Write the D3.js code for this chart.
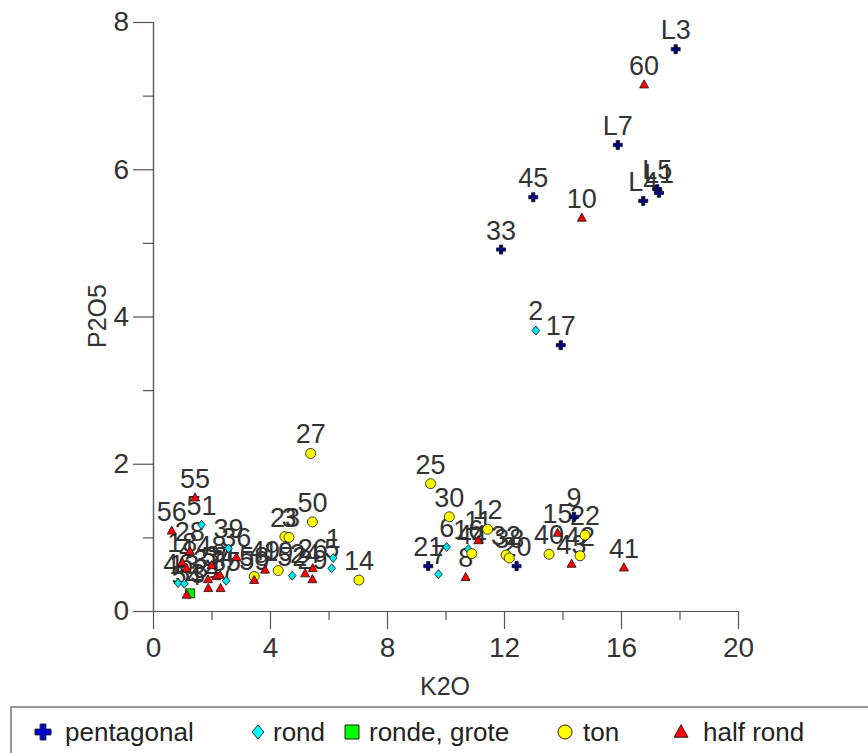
<!DOCTYPE html>
<html>
<head>
<meta charset="utf-8">
<script src="https://cdn.jsdelivr.net/npm/d3@7"></script>
<style>
  html, body { margin: 0; padding: 0; background: #fff; }
  svg { display: block; font-family: "Liberation Sans", Arial, sans-serif; }
</style>
</head>
<body>
<svg id="chart" width="868" height="753"></svg>
<script>
// ---- data ----
const seriesNames = ["pentagonal", "rond", "ronde, grote", "ton", "half rond"];

const pentagonalLabels = ["L3", "L7", "L4", "L5", "L1", "45", "33", "17", "21", "20", "9"];
const pentagonalK2O    = [17.87, 15.89, 16.76, 17.24, 17.30, 13.00, 11.90, 13.94, 9.41, 12.43, 14.39];
const pentagonalP2O5   = [7.63, 6.33, 5.57, 5.73, 5.68, 5.62, 4.91, 3.61, 0.61, 0.61, 1.28];

const rondLabels = ["2", "7", "6", "16", "51", "39", "52", "1", "5", "46", "13", "35"];
const rondK2O    = [13.09, 9.76, 10.04, 10.78, 1.66, 2.58, 4.76, 6.16, 6.11, 0.86, 1.07, 2.50];
const rondP2O5   = [3.81, 0.50, 0.87, 0.84, 1.17, 0.85, 0.48, 0.72, 0.58, 0.38, 0.37, 0.41];

const rondeGroteLabels = ["53"];
const rondeGroteK2O    = [1.27];
const rondeGroteP2O5   = [0.24];

const tonLabels = ["27", "50", "23", "3", "19", "58", "14", "25", "30", "44", "12", "32", "38", "40", "42", "22"];
const tonK2O    = [5.39, 5.45, 4.51, 4.65, 4.28, 3.46, 7.04, 9.49, 10.13, 10.90, 11.44, 12.07, 12.18, 13.54, 14.60, 14.77];
const tonP2O5   = [2.14, 1.21, 1.01, 1.00, 0.55, 0.47, 0.42, 1.73, 1.28, 0.78, 1.11, 0.76, 0.72, 0.77, 0.75, 1.03];

const halfRondLabels = ["60", "10", "55", "56", "28", "18", "4", "36", "49", "59", "24", "26", "29",
                        "37", "57", "34", "31", "47", "48", "54", "8", "11", "15", "43", "41"];
const halfRondK2O    = [16.79, 14.66, 1.44, 0.64, 1.26, 1.00, 1.15, 2.85, 3.83, 3.46, 5.20, 5.46, 5.45,
                        1.88, 2.16, 2.29, 1.89, 2.31, 2.00, 1.15, 10.69, 11.12, 13.83, 14.31, 16.10];
const halfRondP2O5   = [7.15, 5.34, 1.54, 1.09, 0.81, 0.66, 0.58, 0.73, 0.56, 0.42, 0.51, 0.58, 0.43,
                        0.43, 0.47, 0.49, 0.31, 0.31, 0.62, 0.22, 0.46, 0.96, 1.06, 0.64, 0.59];

const xTicks = [0, 4, 8, 12, 16, 20];
const yTicks = [0, 2, 4, 6, 8];
const xTitle = "K2O";
const yTitle = "P2O5";

// ---- build ----
const series = [
  { name: seriesNames[0], shape: "cross",    fill: "#000080", legendFill: "#0000d0", labels: pentagonalLabels, x: pentagonalK2O, y: pentagonalP2O5 },
  { name: seriesNames[1], shape: "diamond",  fill: "#00e5ee", legendFill: "#00ffff", labels: rondLabels,       x: rondK2O,       y: rondP2O5 },
  { name: seriesNames[2], shape: "square",   fill: "#00ee00", legendFill: "#00ff00", labels: rondeGroteLabels, x: rondeGroteK2O, y: rondeGroteP2O5 },
  { name: seriesNames[3], shape: "circle",   fill: "#ffff00", legendFill: "#ffff00", labels: tonLabels,        x: tonK2O,        y: tonP2O5 },
  { name: seriesNames[4], shape: "triangle", fill: "#ff0000", legendFill: "#ff0000", labels: halfRondLabels,   x: halfRondK2O,   y: halfRondP2O5 }
];

const svg = d3.select("#chart");
const xScale = d3.scaleLinear().domain([0, 20]).range([153, 738]);
const yScale = d3.scaleLinear().domain([0, 8]).range([611, 22]);

function shapePath(shape, r) {
  switch (shape) {
    case "cross": {
      const a = r, w = r * 0.36;
      return `M${-w},${-a}H${w}V${-w}H${a}V${w}H${w}V${a}H${-w}V${w}H${-a}V${-w}H${-w}Z`;
    }
    case "diamond":
      return `M0,${-r}L${r * 0.85},0L0,${r}L${-r * 0.85},0Z`;
    case "square":
      return `M${-r},${-r}H${r}V${r}H${-r}Z`;
    case "triangle":
      return `M0,${-r * 1.05}L${r},${r * 0.75}H${-r}Z`;
    case "circle":
    default:
      return d3.arc()({ innerRadius: 0, outerRadius: r, startAngle: 0, endAngle: 2 * Math.PI });
  }
}

// axes
const axisColor = "#555";
const yAxisMajor = d3.axisLeft(yScale).tickValues(yTicks).tickSize(20).tickSizeOuter(0).tickPadding(4)
  .tickFormat(d3.format("d"));
const yAxisMinor = d3.axisLeft(yScale).tickValues([1, 3, 5, 7]).tickSize(10).tickSizeOuter(0).tickFormat("");
const xAxisMajor = d3.axisBottom(xScale).tickValues(xTicks).tickSize(18).tickSizeOuter(0).tickPadding(8)
  .tickFormat(d3.format("d"));
const xAxisMinor = d3.axisBottom(xScale).tickValues([2, 6, 10, 14, 18]).tickSize(9).tickSizeOuter(0).tickFormat("");

function styleAxis(g) {
  g.selectAll("path.domain").attr("stroke", axisColor).attr("stroke-width", 1.2);
  g.selectAll("line").attr("stroke", axisColor).attr("stroke-width", 1.2);
  g.selectAll("text").attr("fill", "#333").style("font-size", "28px")
    .style("font-family", "'Liberation Sans', Arial, sans-serif");
}

svg.append("g").attr("transform", "translate(153,0)").call(yAxisMinor).call(styleAxis);
svg.append("g").attr("transform", "translate(153,0)").call(yAxisMajor).call(styleAxis);
svg.append("g").attr("transform", "translate(0,611)").call(xAxisMinor).call(styleAxis);
svg.append("g").attr("transform", "translate(0,611)").call(xAxisMajor).call(styleAxis);

// axis titles
svg.append("text").attr("x", 445).attr("y", 695).attr("text-anchor", "middle")
  .attr("fill", "#333").style("font-size", "25px").text(xTitle);
svg.append("text").attr("transform", "translate(106,316) rotate(-90)").attr("text-anchor", "middle")
  .attr("fill", "#333").style("font-size", "25px").text(yTitle);

// flatten points
const points = [];
series.forEach(s => {
  s.labels.forEach((lab, i) => points.push({ s, label: lab, x: s.x[i], y: s.y[i] }));
});

// labels (drawn beneath markers)
svg.append("g").selectAll("text").data(points).join("text")
  .attr("x", d => xScale(d.x))
  .attr("y", d => yScale(d.y) - 10)
  .attr("text-anchor", "middle")
  .attr("fill", "#333")
  .style("font-size", "27px")
  .text(d => d.label);

// markers
svg.append("g").selectAll("path").data(points).join("path")
  .attr("transform", d => `translate(${xScale(d.x)},${yScale(d.y)})`)
  .attr("d", d => shapePath(d.s.shape, d.s.shape === "circle" ? 5 : 4.5))
  .attr("fill", d => d.s.fill)
  .attr("stroke", "#111")
  .attr("stroke-width", 0.8);

// legend
const legend = svg.append("g");
legend.append("rect").attr("x", 11).attr("y", 707).attr("width", 870).attr("height", 60)
  .attr("fill", "#fff").attr("stroke", "#777").attr("stroke-width", 1.5);
const legendSymX = [43, 258, 352, 565, 681];
const legendTextX = [65, 273, 369, 583, 703];
series.forEach((s, i) => {
  legend.append("path")
    .attr("transform", `translate(${legendSymX[i]},732)`)
    .attr("d", shapePath(s.shape, s.shape === "cross" ? 8 : 7))
    .attr("fill", s.legendFill)
    .attr("stroke", "#222").attr("stroke-width", 1);
  legend.append("text").attr("x", legendTextX[i]).attr("y", 741)
    .attr("fill", "#222").style("font-size", "26px").text(s.name);
});
</script>
</body>
</html>
